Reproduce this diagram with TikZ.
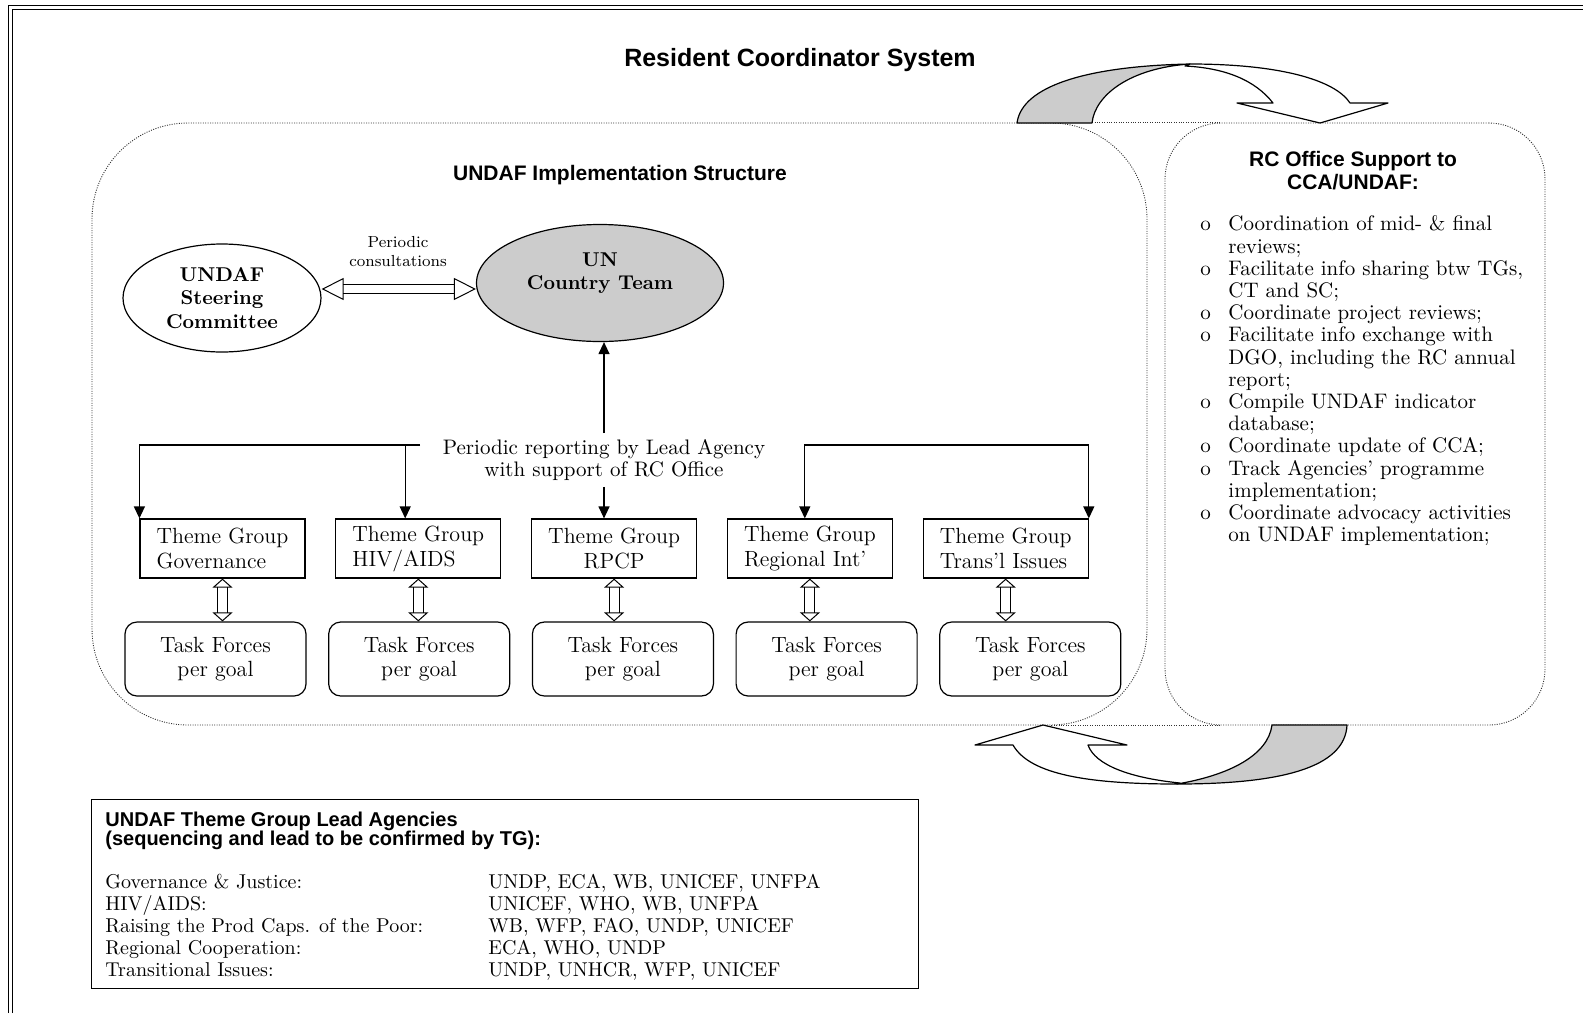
\documentclass[tikz,border=0pt]{standalone}
\usepackage{fontspec}
\newfontfamily\headfont{Liberation Sans}
\usetikzlibrary{arrows.meta, positioning, shapes.geometric}

\begin{document}
\begin{tikzpicture}[
  x=0.5pt, y=-0.5pt,
  >={Triangle[length=6pt,width=5.5pt]},
  node distance=14.8pt,
  every node/.style={align=center, inner sep=1pt},
  title/.style={font=\headfont\bfseries\fontsize{12.5}{14}\selectfont},
  heading/.style={font=\headfont\bfseries\fontsize{10.5}{11.5}\selectfont},
  dotbox/.style={draw=black!80, dash pattern=on 0.5pt off 0.7pt, line width=0.45pt, minimum height=301pt},
  dotline/.style={draw=black!80, dash pattern=on 0.5pt off 0.7pt, line width=0.45pt},
  theme/.style={draw, line width=0.6pt, minimum width=82.5pt, minimum height=29.5pt, align=left, font=\fontsize{11}{12.5}\selectfont},
  task/.style={draw, line width=0.6pt, rounded corners=6pt, minimum width=90.5pt, minimum height=37pt, font=\fontsize{11}{12}\selectfont},
  oval/.style={ellipse, draw, line width=0.6pt, inner sep=0pt, font=\bfseries\fontsize{10}{11.7}\selectfont},
  hollow/.style={double=white, double distance=4.5pt, line width=0.5pt, {Triangle[open,length=4.5pt,width=10pt]}-{Triangle[open,length=4.5pt,width=10pt]}},
  hollowwide/.style={double=white, double distance=4pt, line width=0.5pt, {Triangle[open,length=11pt,width=11pt]}-{Triangle[open,length=11pt,width=11pt]}},
  bandarrow/.style={draw, line width=0.6pt, line join=round}
]
\useasboundingbox (0,0) rectangle (1583,1013);

% page frame
\draw[line width=0.7pt] (8.5,1013) -- (8.5,5.5) -- (1583,5.5);
\draw[line width=0.7pt] (12.5,1013) -- (12.5,9.5) -- (1583,9.5);

\node[title] (rcs) at (800,60) {Resident Coordinator System};

% the two dotted panels
\node[dotbox, minimum width=527.5pt, rounded corners=48pt] (undaf) at (619.5,424) {};
\node[dotbox, minimum width=190pt, rounded corners=28pt] (rcoff) at (1355,424) {};
\draw[dotline] ([xshift=-48pt]undaf.north east) -- ([xshift=28pt]rcoff.north west);
\draw[dotline] ([xshift=-48pt]undaf.south east) -- ([xshift=28pt]rcoff.south west);

\node[heading] (impl) at (620,175) {UNDAF Implementation Structure};

\node[oval, minimum width=99pt, minimum height=54pt] (steer) at (222,298) {UNDAF\\Steering\\Committee};
\node[oval, fill=black!20, minimum width=123.5pt, minimum height=58.5pt] (unct) at (600,283) {UN\\Country Team\\\mbox{}};
\node[font=\fontsize{8}{9.5}\selectfont] (consult) at (398,252) {Periodic\\consultations};
\draw[hollowwide] ([yshift=4.5pt]steer.east) -- ([yshift=-3pt]unct.west);

\node[font=\fontsize{10.5}{11}\selectfont, inner ysep=3pt] (report) at (604,460) {Periodic reporting by Lead Agency\\with support of RC Office};

% theme groups and task forces
\node[theme] (tg1) at (222.5,548.5) {Theme Group\\Governance};
\node[theme, right=of tg1] (tg2) {Theme Group\\HIV/AIDS};
\node[theme, right=of tg2, align=center] (tg3) {Theme Group\\RPCP};
\node[theme, right=of tg3] (tg4) {Theme Group\\Regional Int'};
\node[theme, right=of tg4] (tg5) {Theme Group\\Trans'l Issues};

\node[task] (tf1) at (215.5,659) {Task Forces\\per goal};
\node[task, right=10.75pt of tf1] (tf2) {Task Forces\\per goal};
\node[task, right=10.75pt of tf2] (tf3) {Task Forces\\per goal};
\node[task, right=10.75pt of tf3] (tf4) {Task Forces\\per goal};
\node[task, right=10.75pt of tf4] (tf5) {Task Forces\\per goal};

\foreach \i in {1,...,5}
  \draw[hollow] (tg\i.south) -- (tg\i.south |- tf\i.north);

% reporting lines
\draw[->, line width=0.6pt] (report.north) -- (report.north |- unct.south);
\draw[->, line width=0.6pt] (report.south) -- (report.south |- tg3.north);
\coordinate (lr) at (420,445);
\coordinate (d2) at ([xshift=35pt]tg2.north west);
\coordinate (d4) at ([xshift=39pt]tg4.north west);
\coordinate (rr) at (tg5.north east |- lr);
\draw[->, line width=0.6pt] (lr) -| (tg1.north west);
\draw[->, line width=0.6pt] (d2 |- lr) -- (d2);
\draw[<->, line width=0.6pt] (d4) |- (rr) -- (tg5.north east);

% RC office panel
\node[heading] (rctitle) at (1353,171) {RC Office Support to\\CCA/UNDAF:};
\node[anchor=north west, inner sep=0pt, align=left, font=\fontsize{10.5}{11.1}\selectfont] (rclist) at (1200,215) {%
\begin{tabular}{@{}p{14pt}@{}l@{}}
o & Coordination of mid- \& final\\
  & reviews;\\
o & Facilitate info sharing btw TGs,\\
  & CT and SC;\\
o & Coordinate project reviews;\\
o & Facilitate info exchange with\\
  & DGO, including the RC annual\\
  & report;\\
o & Compile UNDAF indicator\\
  & database;\\
o & Coordinate update of CCA;\\
o & Track Agencies' programme\\
  & implementation;\\
o & Coordinate advocacy activities\\
  & on UNDAF implementation;
\end{tabular}};

% curved block arrows
\filldraw[bandarrow, fill=black!20] (1017,123) .. controls (1022,85) and (1090,66) .. (1190,64) .. controls (1130,68) and (1095,95) .. (1092,123) -- cycle;
\filldraw[bandarrow, fill=white] (1190,64) .. controls (1280,64) and (1335,80) .. (1350,103) -- (1388,103) -- (1320,123) -- (1237,103) -- (1273,103) .. controls (1255,80) and (1225,68) .. (1185,66) -- cycle;
\filldraw[bandarrow, fill=white] (1180,783) .. controls (1130,778) and (1095,765) .. (1088,745) -- (1127,745) -- (1043,725) -- (975,745) -- (1013,745) .. controls (1030,775) and (1090,784) .. (1177,784) -- cycle;
\filldraw[bandarrow, fill=black!20] (1347,725) .. controls (1345,768) and (1280,784) .. (1177,784) .. controls (1230,775) and (1268,755) .. (1272,725) -- cycle;

% lead agencies
\node[draw, line width=0.6pt, minimum width=413.5pt, minimum height=94.5pt, anchor=north west] (legend) at (91,799) {};
\node[anchor=north west, inner sep=0pt, align=left, font=\fontsize{10}{11}\selectfont] (legendtext) at (105,811) {%
\begin{tabular}{@{}p{191.5pt}@{}l@{}}
\multicolumn{2}{@{}l}{\headfont\bfseries UNDAF Theme Group Lead Agencies}\\[-1.5pt]
\multicolumn{2}{@{}l}{\headfont\bfseries (sequencing and lead to be confirmed by TG):}\\[10.5pt]
Governance \& Justice: & UNDP, ECA, WB, UNICEF, UNFPA\\
HIV/AIDS: & UNICEF, WHO, WB, UNFPA\\
Raising the Prod Caps. of the Poor: & WB, WFP, FAO, UNDP, UNICEF\\
Regional Cooperation: & ECA, WHO, UNDP\\
Transitional Issues: & UNDP, UNHCR, WFP, UNICEF
\end{tabular}};
\end{tikzpicture}
\end{document}
